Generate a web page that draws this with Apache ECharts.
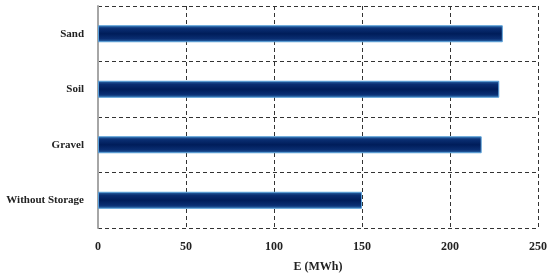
<!DOCTYPE html>
<html>
<head>
<meta charset="utf-8">
<script src="https://cdn.jsdelivr.net/npm/echarts@6/dist/echarts.min.js"></script>
<style>
  html, body { margin: 0; padding: 0; background: #fff; }
  #chart { width: 550px; height: 274px; }
</style>
</head>
<body>
<div id="chart"></div>
<script>
// bottom to top
const categories = ['Without Storage', 'Gravel', 'Soil', 'Sand']
const energy = [150, 218, 228, 230]
const xTicks = [0, 50, 100, 150, 200, 250]

const font = 'Liberation Serif'
const chart = echarts.init(document.getElementById('chart'))

chart.setOption({
  animation: false,
  grid: {
    left: 98,
    right: 12,
    top: 6,
    bottom: 46,
    outerBoundsMode: 'none'
  },
  xAxis: {
    type: 'value',
    min: xTicks[0],
    max: xTicks[xTicks.length - 1],
    interval: 50,
    name: 'E (MWh)',
    nameLocation: 'middle',
    nameGap: 33,
    nameTextStyle: {
      fontFamily: font,
      fontWeight: 'bold',
      fontSize: 12,
      color: '#222'
    },
    axisLine: { show: false },
    axisTick: { show: false },
    axisLabel: {
      margin: 13,
      fontFamily: font,
      fontWeight: 'bold',
      fontSize: 12,
      color: '#222'
    },
    splitLine: {
      show: true,
      showMinLine: true,
      showMaxLine: true,
      lineStyle: {
        color: '#333',
        type: [4, 3],
        width: 1
      }
    }
  },
  yAxis: {
    type: 'category',
    data: categories,
    axisLine: {
      show: true,
      lineStyle: { color: '#a6a6a6', width: 2 }
    },
    axisTick: { show: false },
    axisLabel: {
      margin: 14,
      fontFamily: font,
      fontWeight: 'bold',
      fontSize: 11,
      color: '#222'
    },
    splitLine: {
      show: true,
      showMinLine: true,
      showMaxLine: true,
      lineStyle: {
        color: '#333',
        type: [4, 3],
        width: 1
      }
    }
  },
  series: [
    {
      type: 'bar',
      data: energy,
      barWidth: 17,
      itemStyle: {
        color: new echarts.graphic.LinearGradient(0, 0, 0, 1, [
          { offset: 0, color: '#2f6fb0' },
          { offset: 0.2, color: '#0a2e72' },
          { offset: 0.5, color: '#001d5a' },
          { offset: 0.8, color: '#0a2e72' },
          { offset: 1, color: '#2f6fb0' }
        ]),
        borderColor: '#5aa0d8',
        borderWidth: 1
      }
    }
  ]
})
</script>
</body>
</html>
